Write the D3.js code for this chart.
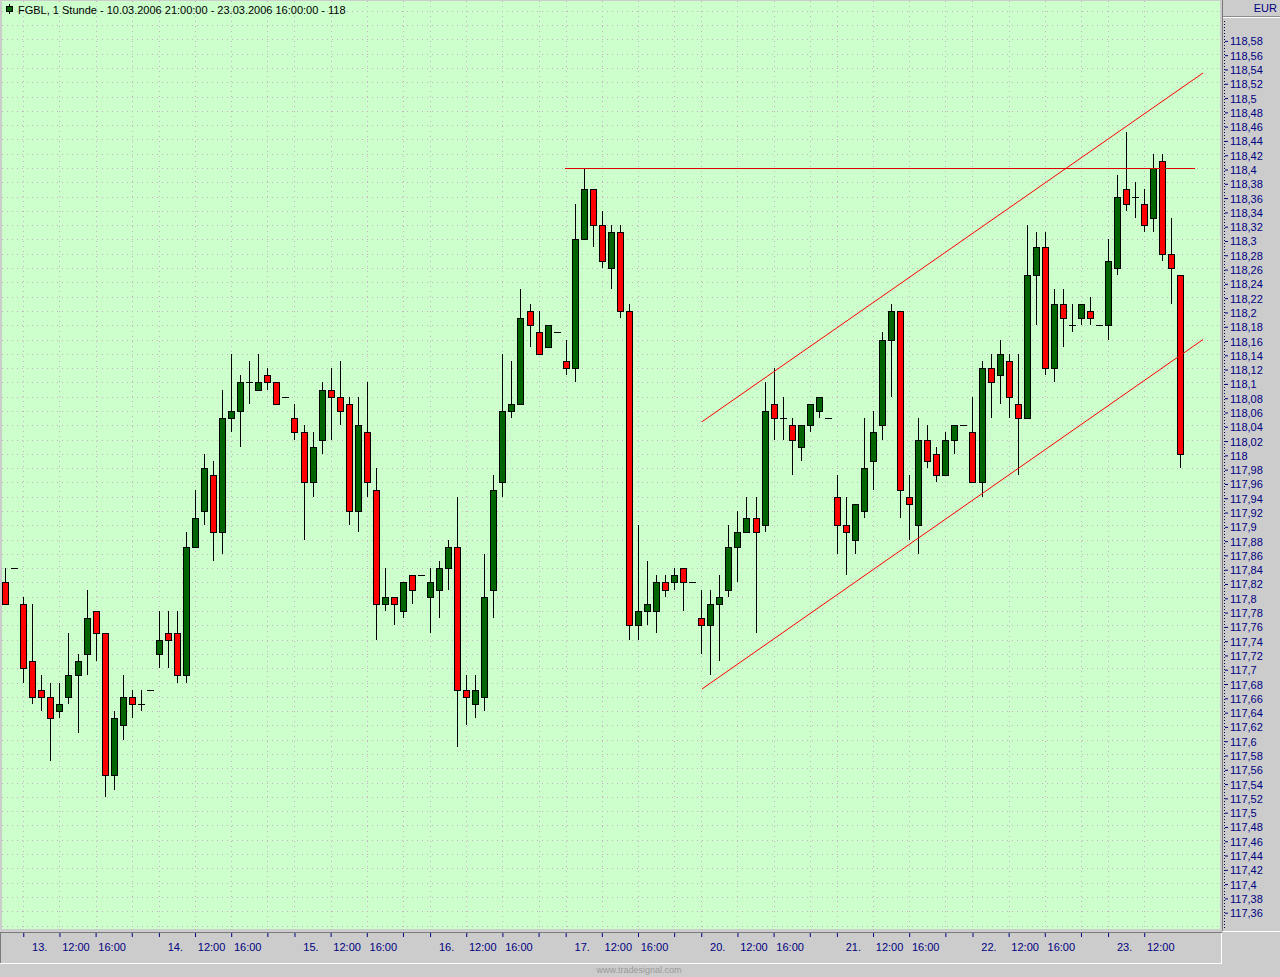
<!DOCTYPE html>
<html>
<head>
<meta charset="utf-8">
<script src="https://cdn.jsdelivr.net/npm/d3@7"></script>
<style>
  html, body { margin: 0; padding: 0; background: #cccccc; overflow: hidden; }
  svg { display: block; font-family: "Liberation Sans", Arial, sans-serif; }
</style>
</head>
<body>
<svg id="chart" width="1280" height="977"></svg>
<script>
// FGBL hourly bars, 10.03.2006 21:00 - 23.03.2006 16:00 (bar index 0..130)
const opens = [
  117.82,117.84,117.79,117.71,117.67,117.66,117.64,117.66,117.69,117.72,117.78,117.75,117.55,117.62,117.66,117.65,117.67,
  117.72,117.75,117.75,117.69,117.87,117.92,117.97,117.89,118.05,118.06,118.10,118.09,118.11,118.10,118.08,118.05,
  118.03,117.96,118.02,118.09,118.08,118.07,117.92,118.03,117.95,117.79,117.80,117.78,117.83,117.83,117.80,117.81,117.84,
  117.87,117.67,117.65,117.66,117.81,117.96,118.06,118.07,118.20,118.17,118.15,118.17,118.13,118.12,118.30,118.37,118.32,
  118.26,118.31,118.20,117.76,117.78,117.78,117.82,117.82,117.84,117.82,117.77,117.76,117.79,117.81,117.87,117.89,117.91,
  117.90,118.07,118.05,118.04,118.01,118.04,118.06,118.05,117.94,117.90,117.88,117.92,117.99,118.04,118.16,118.20,117.94,
  117.90,118.02,118.00,117.97,118.02,118.04,118.03,117.96,118.12,118.11,118.13,118.07,118.05,118.25,118.29,118.12,
  118.21,118.18,118.19,118.20,118.18,118.18,118.26,118.37,118.36,118.35,118.33,118.41,118.28,118.25
];
const highs = [
  117.84,117.84,117.80,117.79,117.69,117.68,117.68,117.75,117.72,117.81,117.78,117.75,117.64,117.69,117.67,117.67,117.67,
  117.78,117.78,117.78,117.89,117.95,118.00,117.99,118.09,118.14,118.11,118.13,118.14,118.12,118.10,118.08,118.07,
  118.04,118.03,118.10,118.12,118.13,118.08,118.08,118.10,117.98,117.84,117.80,117.82,117.83,117.83,117.84,117.85,117.88,
  117.94,117.69,117.69,117.86,117.97,118.14,118.13,118.23,118.21,118.20,118.18,118.17,118.16,118.35,118.40,118.37,118.34,
  118.32,118.32,118.21,117.90,117.85,117.83,117.83,117.84,117.84,117.82,117.81,117.81,117.83,117.90,117.92,117.94,117.94,
  118.10,118.12,118.08,118.05,118.04,118.07,118.08,118.05,117.97,117.94,117.93,118.05,118.06,118.17,118.21,118.20,117.97,
  118.05,118.04,118.01,118.03,118.04,118.04,118.08,118.13,118.14,118.16,118.14,118.14,118.32,118.31,118.31,118.23,
  118.23,118.21,118.21,118.22,118.18,118.30,118.39,118.45,118.38,118.37,118.42,118.42,118.33,118.25
];
const lows = [
  117.79,117.84,117.68,117.65,117.64,117.57,117.63,117.65,117.61,117.69,117.71,117.52,117.53,117.60,117.63,117.64,117.67,
  117.70,117.70,117.68,117.68,117.87,117.90,117.85,117.86,118.03,118.01,118.07,118.09,118.09,118.07,118.08,118.02,
  117.88,117.94,118.00,118.02,118.04,117.90,117.89,117.94,117.74,117.78,117.76,117.77,117.79,117.83,117.75,117.77,117.81,
  117.59,117.62,117.63,117.64,117.77,117.94,118.05,118.07,118.15,118.14,118.15,118.17,118.11,118.10,118.30,118.29,118.26,
  118.23,118.19,117.74,117.74,117.76,117.75,117.80,117.81,117.78,117.82,117.72,117.69,117.71,117.80,117.82,117.89,117.75,
  117.89,118.02,118.02,117.97,117.99,118.03,118.05,118.05,117.86,117.83,117.86,117.91,117.95,118.02,118.08,117.91,117.88,
  117.86,117.98,117.96,117.97,118.00,118.04,117.96,117.94,118.05,118.07,118.05,117.97,118.05,118.18,118.11,118.10,
  118.15,118.17,118.18,118.18,118.18,118.16,118.25,118.34,118.33,118.31,118.31,118.27,118.21,117.98
];
const closes = [
  117.79,117.84,117.70,117.66,117.66,117.63,117.65,117.69,117.71,117.77,117.75,117.55,117.63,117.66,117.65,117.65,117.67,
  117.74,117.74,117.69,117.87,117.91,117.98,117.89,118.05,118.06,118.10,118.10,118.10,118.10,118.07,118.08,118.03,
  117.96,118.01,118.09,118.08,118.06,117.92,118.04,117.96,117.79,117.80,117.79,117.82,117.81,117.83,117.82,117.84,117.87,
  117.67,117.66,117.67,117.80,117.95,118.06,118.07,118.19,118.18,118.14,118.18,118.17,118.12,118.30,118.37,118.32,118.27,
  118.31,118.20,117.76,117.78,117.79,117.82,117.81,117.83,117.82,117.82,117.76,117.79,117.80,117.87,117.89,117.91,117.89,
  118.06,118.05,118.05,118.02,118.04,118.07,118.08,118.05,117.90,117.89,117.93,117.98,118.03,118.16,118.20,117.95,117.93,
  118.02,117.99,117.97,118.02,118.04,118.04,117.96,118.12,118.10,118.14,118.08,118.05,118.25,118.29,118.12,118.21,
  118.19,118.18,118.21,118.19,118.18,118.27,118.36,118.35,118.36,118.32,118.40,118.28,118.26,118.00
];

// time axis: bar index of each tick and its label
const tickBars = [2,6,10,14, 17,21,25,29, 32,36,40,44, 47,51,55,59, 62,66,70,74,
                  77,81,85,89, 92,96,100,104, 107,111,115,119, 122,126];
const tickLabels = ["13.","12:00","16:00","", "14.","12:00","16:00","", "15.","12:00","16:00","",
                    "16.","12:00","16:00","", "17.","12:00","16:00","", "20.","12:00","16:00","",
                    "21.","12:00","16:00","", "22.","12:00","16:00","", "23.","12:00"];

// drawn lines: [bar index, price]
const upperChannel = [[77.08, 118.045], [132.5, 118.533]];
const lowerChannel = [[77.08, 117.671], [132.5, 118.160]];
const resistance = [[61.9, 118.40], [131.6, 118.40]];

const titleText = "FGBL, 1 Stunde - 10.03.2006 21:00:00 - 23.03.2006 16:00:00 - 118";

var candles = opens.map(function (o, i) {
  return { i: i, o: o, h: highs[i], l: lows[i], c: closes[i] };
});

var svg = d3.select("#chart");
var navy = "#000080";
var gridColor = "#c4b2c4";

var plot = { left: 2, top: 1, right: 1220, bottom: 929 };

var x = d3.scaleLinear().domain([0, 130]).range([5.2, 1180.4]);
var y = d3.scaleLinear().domain([117.34, 118.62]).range([925.5, 10.8]);

svg.append("rect").attr("width", 1280).attr("height", 977).attr("fill", "#cccccc");

svg.append("defs").append("clipPath").attr("id", "plotclip")
  .append("rect")
  .attr("x", plot.left).attr("y", plot.top)
  .attr("width", plot.right - plot.left).attr("height", plot.bottom - plot.top);

svg.append("rect")
  .attr("x", plot.left).attr("y", plot.top)
  .attr("width", plot.right - plot.left).attr("height", plot.bottom - plot.top)
  .attr("fill", "#ccffcc");

var g = svg.append("g").attr("clip-path", "url(#plotclip)");

// dotted grid
var gridPrices = d3.range(11734, 11864, 2).map(function (v) { return v / 100; });
g.selectAll(".hgrid")
  .data(gridPrices)
  .enter()
  .append("line")
  .attr("class", "hgrid")
  .attr("x1", plot.left).attr("x2", plot.right)
  .attr("y1", function (d) { return Math.round(y(d)) + 0.5; })
  .attr("y2", function (d) { return Math.round(y(d)) + 0.5; })
  .attr("stroke", gridColor)
  .attr("shape-rendering", "crispEdges")
  .attr("stroke-dasharray", "1,4");

g.selectAll(".vgrid")
  .data(tickBars)
  .enter()
  .append("line")
  .attr("class", "vgrid")
  .attr("x1", function (d) { return Math.round(x(d)) + 0.5; })
  .attr("x2", function (d) { return Math.round(x(d)) + 0.5; })
  .attr("y1", plot.top).attr("y2", plot.bottom)
  .attr("stroke", gridColor)
  .attr("shape-rendering", "crispEdges")
  .attr("stroke-dasharray", "1,4");

// candles
var cg = g.append("g").attr("shape-rendering", "crispEdges");

cg.selectAll(".wick")
  .data(candles.filter(function (d) { return d.h > d.l; }))
  .enter()
  .append("line")
  .attr("class", "wick")
  .attr("x1", function (d) { return Math.round(x(d.i)) + 0.5; })
  .attr("x2", function (d) { return Math.round(x(d.i)) + 0.5; })
  .attr("y1", function (d) { return Math.round(y(d.h)); })
  .attr("y2", function (d) { return Math.round(y(d.l)); })
  .attr("stroke", "black")
  .attr("stroke-width", 1);

cg.selectAll(".body")
  .data(candles.filter(function (d) { return d.o !== d.c; }))
  .enter()
  .append("rect")
  .attr("class", "body")
  .attr("x", function (d) { return Math.round(x(d.i)) - 2.5; })
  .attr("width", 6)
  .attr("y", function (d) { return Math.round(y(Math.max(d.o, d.c))) + 0.5; })
  .attr("height", function (d) {
    return Math.round(y(Math.min(d.o, d.c))) - Math.round(y(Math.max(d.o, d.c)));
  })
  .attr("fill", function (d) { return d.c > d.o ? "#006400" : "#ff0000"; })
  .attr("stroke", "black")
  .attr("stroke-width", 1);

cg.selectAll(".doji")
  .data(candles.filter(function (d) { return d.o === d.c; }))
  .enter()
  .append("line")
  .attr("class", "doji")
  .attr("x1", function (d) { return Math.round(x(d.i)) - 3; })
  .attr("x2", function (d) { return Math.round(x(d.i)) + 4; })
  .attr("y1", function (d) { return Math.round(y(d.o)) + 0.5; })
  .attr("y2", function (d) { return Math.round(y(d.o)) + 0.5; })
  .attr("stroke", "black")
  .attr("stroke-width", 1);

// trend channel and resistance
var line = d3.line()
  .x(function (d) { return x(d[0]); })
  .y(function (d) { return y(d[1]); });

[upperChannel, lowerChannel].forEach(function (pts) {
  g.append("path")
    .attr("d", line(pts))
    .attr("fill", "none")
    .attr("stroke", "#ff0000")
    .attr("stroke-width", 1);
});

g.append("path")
  .attr("d", line(resistance))
  .attr("fill", "none")
  .attr("stroke", "#e00000")
  .attr("stroke-width", 1)
  .attr("shape-rendering", "crispEdges");

// title
svg.append("line")
  .attr("x1", 9.5).attr("x2", 9.5).attr("y1", 4).attr("y2", 14)
  .attr("stroke", "black");
svg.append("rect")
  .attr("x", 6.5).attr("y", 6.5).attr("width", 6).attr("height", 5)
  .attr("fill", "#006400").attr("stroke", "black");
svg.append("text")
  .attr("x", 18).attr("y", 13.5)
  .attr("font-size", "11px")
  .attr("fill", "black")
  .text(titleText);

// right price axis panel
svg.append("rect")
  .attr("x", 1223).attr("y", 0).attr("width", 57).attr("height", 931)
  .attr("fill", "#cccccc");
svg.append("line")
  .attr("x1", 1222.5).attr("x2", 1222.5).attr("y1", 0).attr("y2", 931)
  .attr("stroke", "#7a7a7a");
svg.append("line")
  .attr("x1", 1223).attr("x2", 1280).attr("y1", 16.5).attr("y2", 16.5)
  .attr("stroke", "#8a8a8a");
svg.append("line")
  .attr("x1", 1223).attr("x2", 1280).attr("y1", 17.5).attr("y2", 17.5)
  .attr("stroke", "#ffffff");
svg.append("text")
  .attr("x", 1277).attr("y", 12)
  .attr("text-anchor", "end")
  .attr("font-size", "11px")
  .attr("fill", navy)
  .text("EUR");

svg.append("line")
  .attr("x1", 1224.5).attr("x2", 1224.5).attr("y1", 21).attr("y2", 929)
  .attr("stroke", "#000040")
  .attr("stroke-dasharray", "1,2");

var priceTicks = d3.range(11736, 11860, 2).map(function (v) { return v / 100; });
var yAxis = svg.append("g")
  .attr("transform", "translate(1225,0)")
  .call(d3.axisRight(y)
    .tickValues(priceTicks)
    .tickSize(3)
    .tickPadding(2)
    .tickFormat(function (d) { return String(+d.toFixed(2)).replace(".", ","); }));
yAxis.select(".domain").remove();
yAxis.selectAll(".tick line").attr("stroke", navy).attr("transform", "translate(0,1.5)");
yAxis.selectAll(".tick text")
  .attr("fill", navy)
  .attr("font-size", "11px")
  .attr("font-family", "'Liberation Sans', Arial, sans-serif")
  .attr("dy", "0.5em");

// bottom time axis panel
svg.append("line")
  .attr("x1", 0).attr("x2", 1222).attr("y1", 932.5).attr("y2", 932.5)
  .attr("stroke", "#7a7a7a");
svg.append("line")
  .attr("x1", 0.5).attr("x2", 0.5).attr("y1", 933).attr("y2", 963)
  .attr("stroke", "#7a7a7a");
svg.append("line")
  .attr("x1", 0).attr("x2", 1222).attr("y1", 963.5).attr("y2", 963.5)
  .attr("stroke", "#ffffff");
svg.append("line")
  .attr("x1", 1221.5).attr("x2", 1221.5).attr("y1", 933).attr("y2", 964)
  .attr("stroke", "#ffffff");
svg.append("line")
  .attr("x1", 1223).attr("x2", 1280).attr("y1", 931.5).attr("y2", 931.5)
  .attr("stroke", "#ffffff");

var xAxis = svg.append("g")
  .attr("transform", "translate(0,933)")
  .call(d3.axisBottom(x)
    .tickValues(tickBars)
    .tickSize(4)
    .tickFormat(function (d, i) { return tickLabels[i]; }));
xAxis.select(".domain").remove();
xAxis.selectAll(".tick line").attr("stroke", navy);
xAxis.selectAll(".tick text")
  .attr("fill", navy)
  .attr("font-size", "11px")
  .attr("font-family", "'Liberation Sans', Arial, sans-serif")
  .attr("x", 16)
  .attr("y", 18)
  .attr("dy", "0");

svg.append("text")
  .attr("x", 639).attr("y", 973)
  .attr("text-anchor", "middle")
  .attr("font-size", "9px")
  .attr("fill", "#9a9a9a")
  .text("www.tradesignal.com");
</script>
</body>
</html>
